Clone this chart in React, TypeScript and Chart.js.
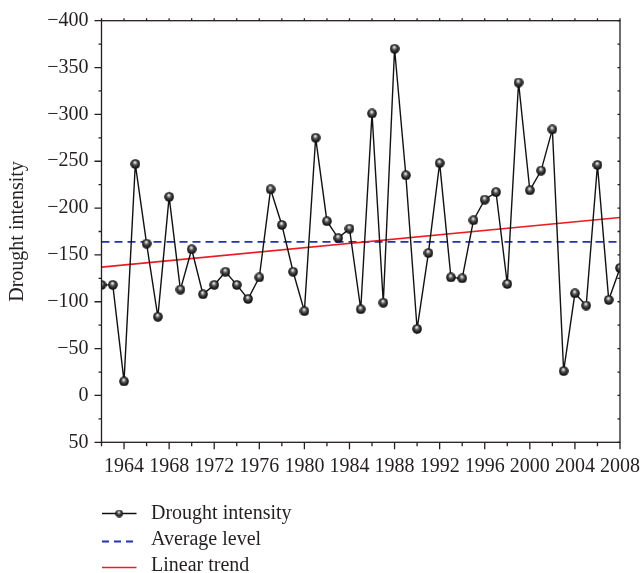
import React, { useEffect, useRef } from 'react';
import { Chart, registerables } from 'chart.js';

Chart.register(...registerables);

// ---- Data ----
const years = [
  1962, 1963, 1964, 1965, 1966, 1967, 1968, 1969, 1970, 1971,
  1972, 1973, 1974, 1975, 1976, 1977, 1978, 1979, 1980, 1981,
  1982, 1983, 1984, 1985, 1986, 1987, 1988, 1989, 1990, 1991,
  1992, 1993, 1994, 1995, 1996, 1997, 1998, 1999, 2000, 2001,
  2002, 2003, 2004, 2005, 2006, 2007, 2008,
];
const droughtIntensity = [
  -118, -118, -15, -247, -162, -84, -212, -113, -156, -108,
  -118, -132, -118, -103, -126, -220, -182, -132, -90, -275,
  -186, -168, -178, -92, -301, -99, -370, -235, -71, -152,
  -248, -126, -125, -187, -209, -217, -119, -334, -219, -240,
  -284, -26, -109, -96, -246, -102, -136,
];
const averageYears = [1962, 2008];
const averageLevel = [-164, -164];
const trendYears = [1962, 2008];
const trendValues = [-137, -190];

const xTickLabels = ['1964', '1968', '1972', '1976', '1980', '1984', '1988', '1992', '1996', '2000', '2004', '2008'];
const yTickLabels = ['−400', '−350', '−300', '−250', '−200', '−150', '−100', '−50', '0', '50'];
const seriesNames = ['Drought intensity', 'Average level', 'Linear trend'];

const FONT = '"Liberation Serif", "DejaVu Serif", serif';
const TEXT = '#231f20';

function makeSphere(size: number): HTMLCanvasElement {
  const c = document.createElement('canvas');
  c.width = size;
  c.height = size;
  const g = c.getContext('2d')!;
  const r = size / 2;
  const grad = g.createRadialGradient(r * 0.9, r * 0.6, 0, r, r, r);
  grad.addColorStop(0, '#ffffff');
  grad.addColorStop(0.18, '#c8c8c8');
  grad.addColorStop(0.45, '#505050');
  grad.addColorStop(0.8, '#1a1a1a');
  grad.addColorStop(1, '#000000');
  g.beginPath();
  g.arc(r, r, r - 0.2, 0, Math.PI * 2);
  g.fillStyle = grad;
  g.fill();
  return c;
}

export default function App() {
  const ref = useRef<HTMLCanvasElement | null>(null);

  useEffect(() => {
    document.body.style.margin = '0';
    const canvas = ref.current;
    if (!canvas) return;
    const sphere = makeSphere(10);
    const legendSphere = makeSphere(8);

    const frameTicks = {
      id: 'frameTicks',
      afterDraw(chart: any) {
        const { ctx, chartArea: a, scales } = chart;
        const x = scales.x;
        const y = scales.y;
        ctx.save();
        ctx.strokeStyle = TEXT;
        ctx.lineWidth = 1.3;
        ctx.strokeRect(a.left, a.top, a.right - a.left, a.bottom - a.top);
        ctx.beginPath();
        const yt = y.ticks.map((t: any) => t.value);
        for (let i = 0; i < yt.length; i++) {
          const py = y.getPixelForValue(yt[i]);
          ctx.moveTo(a.left, py);
          ctx.lineTo(a.left - 7, py);
          ctx.moveTo(a.right, py);
          ctx.lineTo(a.right - 2.5, py);
          if (i < yt.length - 1) {
            const pm = y.getPixelForValue((yt[i] + yt[i + 1]) / 2);
            ctx.moveTo(a.left, pm);
            ctx.lineTo(a.left - 3, pm);
            ctx.moveTo(a.right, pm);
            ctx.lineTo(a.right - 2.5, pm);
          }
        }
        for (const t of x.ticks) {
          const px = x.getPixelForValue(t.value);
          const major = xTickLabels.includes(String(t.value));
          ctx.moveTo(px, a.bottom);
          ctx.lineTo(px, a.bottom + (major ? 7 : 4));
          ctx.moveTo(px, a.top);
          ctx.lineTo(px, a.top - 2.5);
        }
        ctx.stroke();

        // Legend
        const ds = chart.data.datasets;
        const lx0 = a.left + 0.5;
        const lx1 = a.left + 35;
        const tx = a.left + 49.5;
        const lineYs = [513.5, 541.5, 567.5];
        const baseYs = [518.5, 544.5, 570.5];
        ctx.font = `20px ${FONT}`;
        ctx.fillStyle = TEXT;
        ctx.textBaseline = 'alphabetic';
        ctx.textAlign = 'left';
        for (let i = 0; i < 3; i++) {
          ctx.save();
          ctx.beginPath();
          ctx.strokeStyle = ds[i].borderColor;
          ctx.lineWidth = ds[i].borderWidth;
          ctx.setLineDash(i === 1 ? [7, 5] : []);
          ctx.moveTo(lx0, lineYs[i]);
          ctx.lineTo(lx1, lineYs[i]);
          ctx.stroke();
          ctx.restore();
          if (i === 0) {
            ctx.drawImage(legendSphere, (lx0 + lx1) / 2 - 4, lineYs[i] - 4);
          }
          ctx.fillText(seriesNames[i], tx, baseYs[i]);
        }
        ctx.restore();
      },
    };

    const chart = new Chart(canvas, {
      type: 'line',
      data: {
        datasets: [
          {
            label: seriesNames[0],
            data: years.map((yr, i) => ({ x: yr, y: droughtIntensity[i] })),
            borderColor: '#111111',
            borderWidth: 1.4,
            pointStyle: sphere as any,
            pointRadius: 5,
            tension: 0,
            order: 0,
          },
          {
            label: seriesNames[1],
            data: averageYears.map((yr, i) => ({ x: yr, y: averageLevel[i] })),
            borderColor: '#2233b0',
            borderWidth: 1.8,
            borderDash: [8, 5],
            pointRadius: 0,
            order: 2,
          },
          {
            label: seriesNames[2],
            data: trendYears.map((yr, i) => ({ x: yr, y: trendValues[i] })),
            borderColor: '#ec1c24',
            borderWidth: 1.6,
            pointRadius: 0,
            order: 1,
          },
        ],
      },
      options: {
        responsive: false,
        animation: false,
        layout: { padding: { left: 0, top: 20.7, right: 22, bottom: 90.7 } },
        plugins: {
          legend: { display: false },
          tooltip: { enabled: false },
        },
        scales: {
          x: {
            type: 'linear',
            min: 1962,
            max: 2008,
            afterFit: (s: any) => { s.height = 40; s.paddingLeft = 0; s.paddingRight = 0; },
            border: { display: false },
            grid: { display: true, drawOnChartArea: false, drawTicks: true, tickLength: 7, color: 'rgba(0,0,0,0)' },
            ticks: {
              stepSize: 2,
              autoSkip: false,
              maxRotation: 0,
              padding: 5,
              color: TEXT,
              font: { family: FONT, size: 20 },
              callback: (v: any) => (xTickLabels.includes(String(v)) ? String(v) : ''),
            },
          },
          y: {
            type: 'linear',
            min: -400,
            max: 50,
            reverse: true,
            afterFit: (s: any) => { s.width = 101.5; s.paddingTop = 0; s.paddingBottom = 0; },
            border: { display: false },
            grid: { display: true, drawOnChartArea: false, drawTicks: true, tickLength: 7, color: 'rgba(0,0,0,0)' },
            ticks: {
              stepSize: 50,
              padding: 6,
              color: TEXT,
              font: { family: FONT, size: 20 },
              callback: (v: any) => {
                const s = v < 0 ? '−' + Math.abs(v) : String(v);
                return yTickLabels.includes(s) ? s : '';
              },
            },
            title: {
              display: true,
              text: 'Drought intensity',
              color: TEXT,
              font: { family: FONT, size: 20 },
              padding: { top: 6, bottom: 0 },
            },
          },
        },
      },
      plugins: [frameTicks],
    });

    return () => chart.destroy();
  }, []);

  return (
    <div style={{ position: 'absolute', left: 0, top: 0, width: 642, height: 573 }}>
      <canvas ref={ref} width={642} height={573} style={{ display: 'block', width: 642, height: 573 }} />
    </div>
  );
}
